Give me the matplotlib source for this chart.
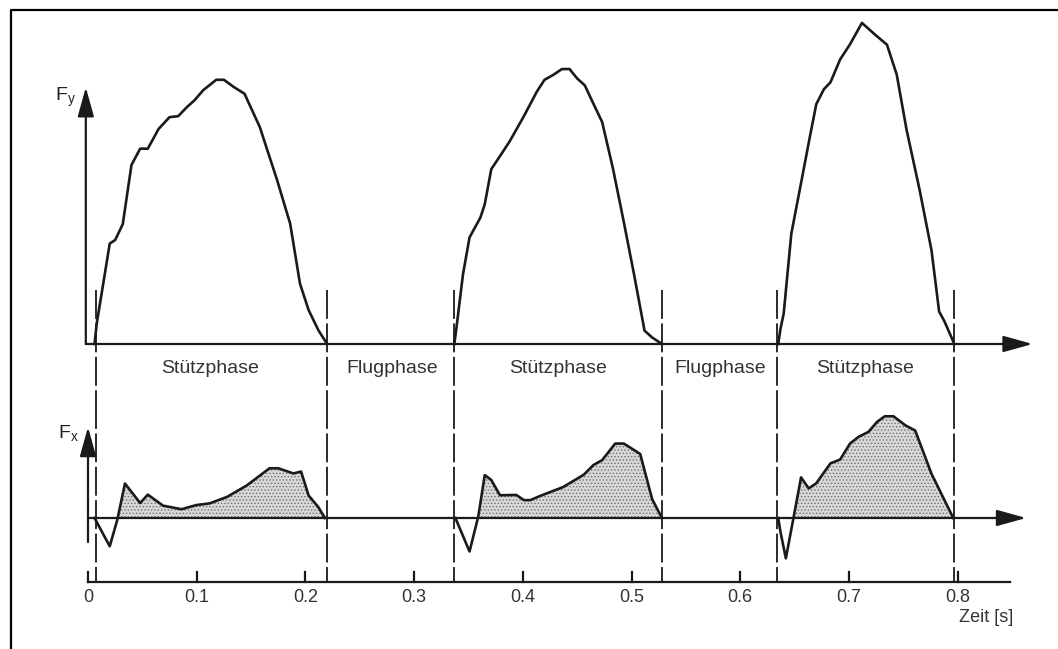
import numpy as np
import matplotlib.pyplot as plt
from matplotlib.lines import Line2D

plt.rcParams['font.family'] = ['Liberation Sans', 'DejaVu Sans']
plt.rcParams['hatch.color'] = '#707070'
plt.rcParams['hatch.linewidth'] = 0.6

# Vertikalkraft Fy (relative Einheiten) je Stützphase
fy1_t = [0.006, 0.008, 0.020, 0.025, 0.032, 0.040, 0.048, 0.055, 0.065, 0.075, 0.083, 0.091,
         0.098, 0.106, 0.118, 0.125, 0.134, 0.144, 0.158, 0.174, 0.186, 0.195, 0.203, 0.212, 0.220]
fy1 = [0, 6.2, 30.9, 32.0, 36.9, 55.1, 60.1, 60.1, 66.2, 69.8, 70.1, 72.9,
       75.0, 78.1, 81.3, 81.3, 79.1, 77.0, 66.8, 50.4, 37.0, 18.6, 10.4, 4.2, 0]

fy2_t = [0.337, 0.339, 0.345, 0.351, 0.361, 0.365, 0.371, 0.379, 0.388, 0.401, 0.413, 0.420,
         0.428, 0.436, 0.443, 0.450, 0.457, 0.465, 0.473, 0.483, 0.493, 0.502, 0.512, 0.519, 0.528]
fy2 = [0, 5.1, 21.5, 32.8, 38.9, 43.0, 53.8, 57.8, 62.4, 70.1, 77.7, 81.3,
       82.8, 84.6, 84.6, 81.7, 79.6, 73.9, 68.3, 53.9, 37.4, 22.0, 4.1, 2.0, 0]

fy3_t = [0.635, 0.637, 0.640, 0.647, 0.657, 0.664, 0.670, 0.677, 0.683, 0.692, 0.701,
         0.712, 0.724, 0.735, 0.744, 0.753, 0.765, 0.776, 0.783, 0.788, 0.797]
fy3 = [0, 4.6, 9.3, 33.9, 51.3, 63.6, 73.8, 78.4, 80.5, 87.6, 92.2,
       98.8, 95.2, 92.1, 82.9, 66.0, 47.5, 28.8, 10.0, 6.9, 0]

# Horizontalkraft Fx (relative Einheiten)
fx1_t = [0.006, 0.020, 0.027, 0.034, 0.048, 0.055, 0.069, 0.086, 0.100, 0.112, 0.128,
         0.146, 0.167, 0.175, 0.189, 0.196, 0.203, 0.212, 0.218]
fx1 = [0, -8.7, -0.5, 10.6, 4.6, 7.2, 3.8, 2.7, 4.0, 4.5, 6.5,
       10.0, 15.3, 15.3, 13.7, 14.3, 6.9, 3.3, 0]

fx2_t = [0.338, 0.351, 0.359, 0.365, 0.371, 0.379, 0.394, 0.401, 0.407, 0.416, 0.437,
         0.456, 0.465, 0.473, 0.485, 0.493, 0.508, 0.519, 0.528]
fx2 = [0, -10.3, 0.4, 13.2, 11.7, 7.0, 7.1, 5.5, 5.5, 6.8, 9.5,
       13.3, 16.3, 17.8, 22.9, 22.9, 19.7, 5.8, 0]

fx3_t = [0.635, 0.637, 0.642, 0.649, 0.656, 0.663, 0.670, 0.683, 0.692, 0.701, 0.709,
         0.718, 0.726, 0.733, 0.741, 0.752, 0.761, 0.776, 0.796]
fx3 = [0, -4.2, -12.4, 0, 12.5, 9.1, 10.7, 16.8, 18.0, 22.9, 25.0,
       26.5, 29.6, 31.3, 31.3, 28.5, 26.9, 13.6, 0]

phase_bounds = [0.007, 0.220, 0.337, 0.528, 0.634, 0.797]
phase_labels = ['Stützphase', 'Flugphase', 'Stützphase', 'Flugphase', 'Stützphase']
phase_label_x = [0.112, 0.280, 0.432, 0.582, 0.715]
time_ticks = [0, 0.1, 0.2, 0.3, 0.4, 0.5, 0.6, 0.7, 0.8]
time_tick_labels = ['0', '0.1', '0.2', '0.3', '0.4', '0.5', '0.6', '0.7', '0.8']

W, H = 1058, 649
fig = plt.figure(figsize=(W / 100, H / 100), dpi=100)
fig.patch.set_facecolor('white')

xlim = (-88 / 1087, (W - 88) / 1087)
ax_top = fig.add_axes([0, 1 - 400 / H, 1, 400 / H])
ax_bot = fig.add_axes([0, 0, 1, 249 / H])
ax_top.set_xlim(xlim)
ax_bot.set_xlim(xlim)
ax_top.set_ylim(-(400 - 344) / 3.25, 344 / 3.25)
ax_bot.set_ylim(-(649 - 518) / 3.25, (518 - 400) / 3.25)
for ax in (ax_top, ax_bot):
    ax.axis('off')
    ax.patch.set_alpha(0)

arrow = dict(arrowstyle='-|>,head_length=0.9,head_width=0.25', color='#1a1a1a',
             lw=1.6, mutation_scale=20, shrinkA=0, shrinkB=0)

# --- oberes Diagramm: Fy ---
ax_top.annotate('', xy=(-0.002, 79), xytext=(-0.002, 0), arrowprops=arrow)
ax_top.annotate('', xy=(0.869, 0), xytext=(-0.002, 0), arrowprops=arrow)
ax_top.text(-0.030, 76, 'F$_\\mathregular{y}$', fontsize=14, ha='left', va='center', color='#222')
for t, f in [(fy1_t, fy1), (fy2_t, fy2), (fy3_t, fy3)]:
    ax_top.plot(t, f, color='#1a1a1a', lw=1.9, solid_joinstyle='round')
for b in phase_bounds:
    ax_top.plot([b, b], [16.6, -17.3], color='#1a1a1a', lw=1.3, ls=(0, (16, 2.5)), clip_on=False)
for lab, x in zip(phase_labels, phase_label_x):
    ax_top.text(x, -7.4, lab, fontsize=14, ha='center', va='center', color='#333')

# --- unteres Diagramm: Fx ---
ax_bot.annotate('', xy=(0.0, 28), xytext=(0.0, -7.4), arrowprops=arrow)
ax_bot.annotate('', xy=(0.863, 0), xytext=(0.0, 0), arrowprops=arrow)
ax_bot.text(-0.028, 26, 'F$_\\mathregular{x}$', fontsize=14, ha='left', va='center', color='#222')
for t, f in [(fx1_t, fx1), (fx2_t, fx2), (fx3_t, fx3)]:
    t = np.array(t)
    f = np.array(f)
    ax_bot.fill_between(t, f, 0, where=f > 0, interpolate=True, facecolor='#d8d8d8',
                        edgecolor='#707070', hatch='.....', linewidth=0)
    ax_bot.plot(t, f, color='#1a1a1a', lw=1.9, solid_joinstyle='round')
for b in phase_bounds:
    ax_bot.plot([b, b], [36.4, -19.7], color='#1a1a1a', lw=1.3, ls=(0, (16, 2.5)), clip_on=False)

# Zeitachse
ax_bot.plot([0, 0.848], [-19.7, -19.7], color='#1a1a1a', lw=1.6)
for tk, lab in zip(time_ticks, time_tick_labels):
    ax_bot.plot([tk, tk], [-19.7, -16.6], color='#1a1a1a', lw=1.6)
    ax_bot.text(tk, -24.6, lab, fontsize=13, ha='center', va='center', color='#333')
ax_bot.text(0.826, -30.6, 'Zeit [s]', fontsize=13, ha='center', va='center', color='#333')

# Rahmen des Scans
fig.add_artist(Line2D([11 / W, 11 / W, 1], [0, 1 - 10 / H, 1 - 10 / H],
                      color='black', lw=1.6, transform=fig.transFigure))

fig.savefig('out.png', dpi=100)
